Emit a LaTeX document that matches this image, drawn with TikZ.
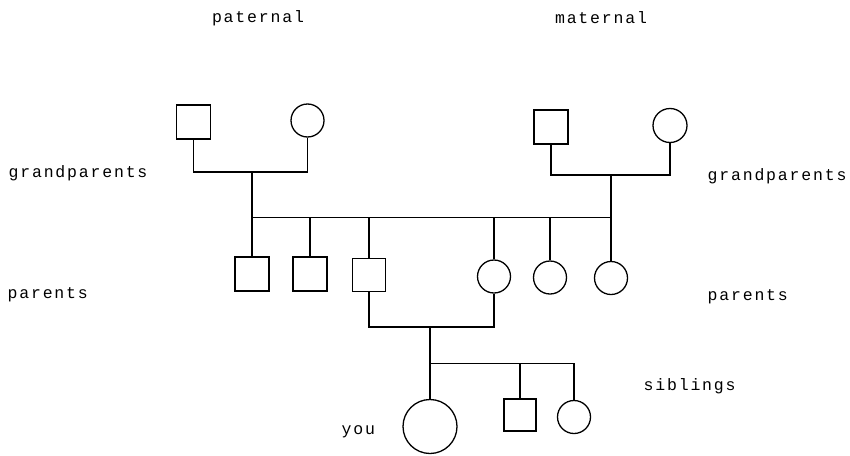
\documentclass[tikz,border=0pt]{standalone}
\usepackage{fontspec}
\newfontfamily\tw[LetterSpace=11]{Liberation Mono}
\begin{document}
\begin{tikzpicture}[x=1pt,y=1pt,
  line width=1.3pt,
  male/.style={draw,rectangle,minimum size=#1,inner sep=0pt},
  female/.style={draw,circle,minimum size=#1,inner sep=0pt},
  lbl/.style={font=\tw\fontsize{16.5}{18}\selectfont,inner sep=0pt,anchor=west},
  lblc/.style={font=\tw\fontsize{16.5}{18}\selectfont,inner sep=0pt}]
\useasboundingbox (0,0) rectangle (850,-455);
% labels
\node[lblc] (tpat) at (258,-18) {paternal};
\node[lblc] (tmat) at (601,-18) {maternal};
\node[lbl] (tgl) at (8,-173) {grandparents};
\node[lbl] (tgr) at (707,-176) {grandparents};
\node[lbl] (tpl) at (7,-295) {parents};
\node[lbl] (tpr) at (707,-297) {parents};
\node[lbl] (tsib) at (643,-386) {siblings};
\node[lbl] (tyou) at (341,-432) {you};
% grandparents
\node[male=34pt] (pgf) at (193.5,-122) {};
\node[female=33pt] (pgm) at (307.5,-120.5) {};
\node[male=34pt] (mgf) at (551,-127) {};
\node[female=34pt] (mgm) at (670,-125.5) {};
\coordinate (pj) at (252,-172);
\coordinate (mj) at (611,-175);
\draw (pgf.south) |- (pj) -| (pgm.south);
\draw (mgf.south) |- (mj) -| (mgm.south);
\coordinate (sl) at (252,-217.5);
\coordinate (sr) at (611,-217.5);
\draw (pj) -- (sl) -- (sr) -- (mj);
% parents generation
\node[male=34pt] (c1) at (252,-274) {};
\node[male=34pt] (c2) at (310,-274) {};
\node[male=33pt] (c3) at (369,-275) {};
\node[female=33pt] (c4) at (494,-276.5) {};
\node[female=33pt] (c5) at (550,-277.5) {};
\node[female=33pt] (c6) at (611,-278) {};
\foreach \c in {c1,c2,c3,c4,c5,c6}{
  \draw (\c.north) -- (\c.north |- sl);
}
% parents couple
\coordinate (fj) at (430,-327);
\draw (c3.south) |- (fj) -| (c4.south);
\coordinate (yl) at (430,-363.5);
\coordinate (yr) at (574,-363.5);
\node[female=54pt] (you) at (430,-426.5) {};
\node[male=32pt] (s1) at (520,-415) {};
\node[female=33pt] (s2) at (574,-417) {};
\draw (fj) -- (yl) -- (you.north);
\draw (yl) -- (yr) -- (s2.north);
\draw (s1.north) -- (s1.north |- yl);
\end{tikzpicture}
\end{document}
